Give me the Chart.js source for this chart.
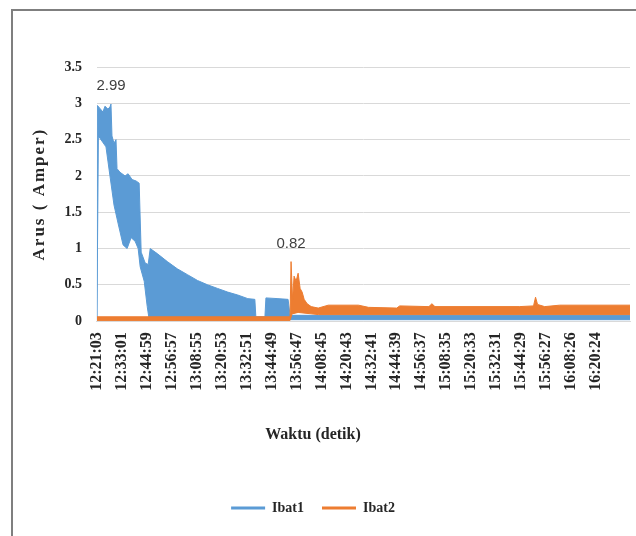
<!DOCTYPE html>
<html><head><meta charset="utf-8">
<script src="https://cdn.jsdelivr.net/npm/chart.js@4.4.1/dist/chart.umd.min.js"></script>
<style>
html,body{margin:0;padding:0;background:#fff;}
#wrap{position:relative;width:636px;height:536px;overflow:hidden;}
#frame{position:absolute;left:11px;top:9px;width:700px;height:600px;border-left:2px solid #7f7f7f;border-top:2px solid #7f7f7f;}
canvas{position:absolute;left:0;top:0;}
</style></head><body>
<div id="wrap"><div id="frame"></div><canvas id="c" width="636" height="536"></canvas></div>
<script>
// X tick labels (time of day), one every 718 s of recording
const tickLabels = ["12:21:03","12:33:01","12:44:59","12:56:57","13:08:55","13:20:53","13:32:51","13:44:49","13:56:47","14:08:45","14:20:43","14:32:41","14:44:39","14:56:37","15:08:35","15:20:33","15:32:31","15:44:29","15:56:27","16:08:26","16:20:24"];
const tickStepSeconds = 718;

// Ibat1 current (A): upper and lower envelope of the dense trace, [seconds since start, ampere]
const ibat1Upper = [[0,0.02],[14,2.97],[87,2.93],[174,2.88],[232,2.96],[318,2.92],[376,2.95],[405,2.99],[434,2.55],[492,2.45],[550,2.50],[579,2.10],[666,2.05],[811,2.00],[897,2.03],[1013,1.95],[1129,1.93],[1216,1.90],[1274,0.95],[1390,0.80],[1476,0.78],[1534,1.00],[1737,0.93],[2027,0.82],[2316,0.72],[2606,0.64],[2895,0.56],[3185,0.50],[3474,0.45],[3764,0.40],[4053,0.36],[4343,0.31],[4545,0.30],[4574,0.06],[4835,0.06],[4864,0.32],[5211,0.31],[5501,0.30],[5558,0.08],[15340,0.08]];
const ibat1Lower = [[0,0],[43,2.55],[87,2.52],[261,2.40],[376,2.00],[492,1.60],[608,1.35],[753,1.05],[869,1.00],[984,1.15],[1100,1.10],[1187,1.00],[1245,0.75],[1361,0.55],[1448,0.20],[1505,0.02],[15340,0.02]];

// Ibat2 current (A): upper and lower envelope
const ibat2Upper = [[0,0.06],[5558,0.06],[5587,0.82],[5630,0.30],[5674,0.62],[5732,0.55],[5790,0.66],[5848,0.45],[5906,0.40],[5964,0.30],[6050,0.24],[6166,0.20],[6369,0.18],[6658,0.22],[7527,0.22],[7816,0.19],[8627,0.18],[8714,0.21],[9554,0.20],[9640,0.24],[9727,0.20],[12159,0.20],[12564,0.21],[12622,0.33],[12680,0.23],[12883,0.20],[13317,0.22],[15340,0.22]];
const ibat2Lower = [[0,0.01],[5558,0.01],[5616,0.10],[5790,0.12],[6369,0.09],[15340,0.09]];

const series = [
  {name:'Ibat1', color:'#5B9BD5', upper: ibat1Upper, lower: ibat1Lower},
  {name:'Ibat2', color:'#ED7D31', upper: ibat2Upper, lower: ibat2Lower}
];
const toXY = arr => arr.map(([x,y]) => ({x, y}));

const datasets = series.flatMap((s, si) => [
  {label: s.name, data: toXY(s.upper), borderColor: s.color, backgroundColor: s.color, fill: '+1', borderWidth: 1, pointRadius: 0, tension: 0, order: (1 - si) * 2, showMax: true},
  {label: s.name + ' min', data: toXY(s.lower), borderColor: s.color, backgroundColor: s.color, fill: false, borderWidth: 1, pointRadius: 0, tension: 0, order: (1 - si) * 2 + 1}
]);

const maxLabelPlugin = {
  id: 'maxLabel',
  afterDatasetsDraw(chart) {
    const ctx = chart.ctx;
    chart.data.datasets.forEach((ds, i) => {
      if (!ds.showMax) return;
      let mi = 0;
      ds.data.forEach((p, j) => { if (p.y > ds.data[mi].y) mi = j; });
      const el = chart.getDatasetMeta(i).data[mi];
      ctx.save();
      ctx.font = '15px "Liberation Sans"';
      ctx.fillStyle = '#404040';
      ctx.textAlign = 'center';
      ctx.textBaseline = 'alphabetic';
      ctx.fillText(ds.data[mi].y.toFixed(2), el.x, el.y - 14);
      ctx.restore();
    });
  }
};

// Widen the rotated y title a little, and centre title/legend like the reference
const stylePlugin = {
  id: 'style',
  afterLayout(chart) {
    const y = chart.scales.y;
    if (!y._spaced) {
      const orig = y.drawTitle.bind(y);
      y.drawTitle = function (...a) {
        const c = chart.ctx; const prev = c.letterSpacing;
        c.letterSpacing = '2px'; orig(...a); c.letterSpacing = prev;
      };
      y._spaced = true;
    }
    const shift = -12;
    [chart.legend, chart.titleBlock].forEach(b => { if (b) { b.left += shift; b.right += shift; } });
  }
};

const serif = 'Liberation Serif';
new Chart(document.getElementById('c'), {
  type: 'line',
  data: {datasets},
  plugins: [maxLabelPlugin, stylePlugin],
  options: {
    responsive: false,
    animation: false,
    layout: {padding: {left: 20, top: 67, right: 6, bottom: 11}},
    scales: {
      x: {
        type: 'linear', min: 0, max: ibat1Upper[ibat1Upper.length - 1][0],
        afterBuildTicks: scale => { scale.ticks = tickLabels.map((_, i) => ({value: i * tickStepSeconds})); },
        ticks: {autoSkip: false, minRotation: 90, maxRotation: 90, padding: 11, color: '#262626',
          font: {family: serif, size: 16, weight: 'bold'},
          callback: (v, i) => tickLabels[i]},
        grid: {display: false, drawTicks: false},
        border: {display: true, color: '#d9d9d9'}
      },
      y: {
        min: 0, max: 3.5,
        ticks: {stepSize: 0.5, padding: 15, color: '#262626', font: {family: serif, size: 14, weight: 'bold'},
          callback: v => String(v)},
        grid: {color: '#d9d9d9', drawTicks: false},
        border: {display: false},
        title: {display: true, text: 'Arus ( Amper)', color: '#262626', font: {family: serif, size: 17, weight: 'bold'}, padding: {top: 9, bottom: 0}}
      }
    },
    plugins: {
      tooltip: {enabled: false},
      title: {display: true, text: 'Waktu (detik)', position: 'bottom', weight: 500, color: '#262626',
        font: {family: serif, size: 16, weight: 'bold'}, padding: {top: 23, bottom: 39}},
      legend: {
        position: 'bottom',
        onClick: null,
        labels: {
          usePointStyle: true, pointStyleWidth: 34, padding: 18, color: '#262626',
          font: {family: serif, size: 14, weight: 'bold'},
          generateLabels: () => series.map((s, i) => ({text: s.name, fillStyle: s.color, strokeStyle: s.color, lineWidth: 3, pointStyle: 'line', hidden: false, datasetIndex: i * 2, fontColor: '#262626'}))
        }
      }
    }
  }
});
</script>
</body></html>
